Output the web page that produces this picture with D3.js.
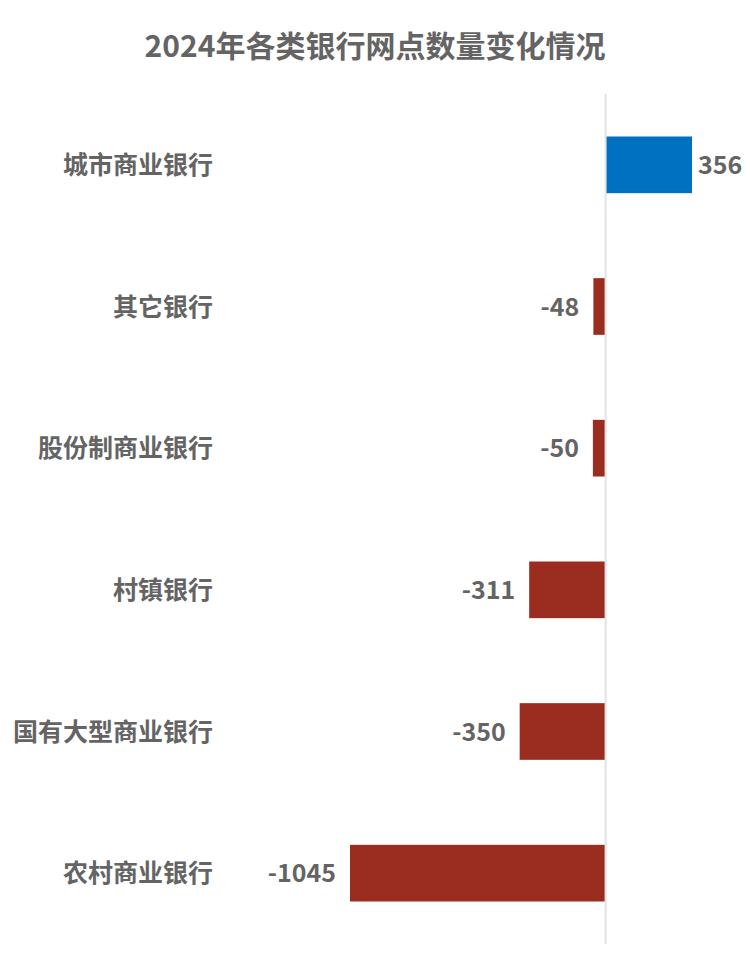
<!DOCTYPE html>
<html><head><meta charset="utf-8">
<script src="https://cdn.jsdelivr.net/npm/d3@7"></script>
<style>body{margin:0;background:#fff}</style>
</head><body>
<script>
const title = "2024年各类银行网点数量变化情况";
const categories = ["城市商业银行","其它银行","股份制商业银行","村镇银行","国有大型商业银行","农村商业银行"];
const values = [356,-48,-50,-311,-350,-1045];

const W = 750, H = 968;
const font = "'Noto Sans CJK SC','Microsoft YaHei',sans-serif";
const textColor = "#646464";
const svg = d3.select("body").append("svg").attr("width",W).attr("height",H);

const x = d3.scaleLinear().domain([-1045,356]).range([350,692]);
const y = d3.scaleBand().domain(categories).range([94,944]).paddingInner(0.6).paddingOuter(0.3);

svg.append("text").attr("x",375).attr("y",44).attr("text-anchor","middle")
  .attr("dominant-baseline","central")
  .style("font-family",font).style("font-weight","bold").style("font-size","30px")
  .attr("fill",textColor).text(title);

svg.selectAll("rect.bar").data(values).join("rect").attr("class","bar")
  .attr("x",d=>x(Math.min(0,d))).attr("width",d=>Math.abs(x(d)-x(0)))
  .attr("y",(d,i)=>y(categories[i])).attr("height",y.bandwidth())
  .attr("fill",d=>d>=0?"#0070C0":"#9B2D20");

svg.append("line").attr("x1",x(0)+0.5).attr("x2",x(0)+0.5).attr("y1",94).attr("y2",944)
  .attr("stroke","#e3e3e3").attr("stroke-width",2);

svg.selectAll("text.cat").data(categories).join("text").attr("class","cat")
  .attr("x",213).attr("y",d=>y(d)+y.bandwidth()/2-2).attr("text-anchor","end")
  .attr("dominant-baseline","central")
  .style("font-family",font).style("font-weight","bold").style("font-size","25px")
  .attr("fill",textColor).text(d=>d);

svg.selectAll("text.val").data(values).join("text").attr("class","val")
  .attr("x",d=>d>=0?x(d)+6:x(d)-14)
  .attr("y",(d,i)=>y(categories[i])+y.bandwidth()/2-2)
  .attr("text-anchor",d=>d>=0?"start":"end")
  .attr("dominant-baseline","central")
  .style("font-family",font).style("font-weight","bold").style("font-size","25px")
  .attr("fill",textColor).text(d=>d);
</script>
</body></html>
